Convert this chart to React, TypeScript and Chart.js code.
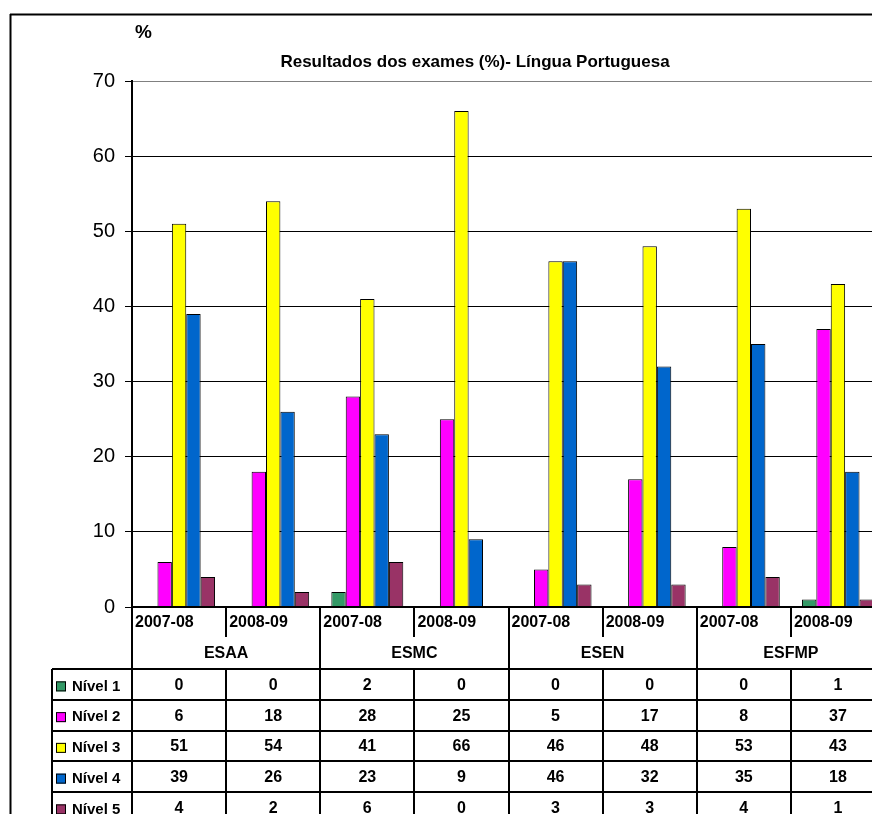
import React, { useEffect, useRef } from 'react';
import { Chart, registerables } from 'chart.js';

Chart.register(...registerables);

// ---- Data ----
const categories = ['2007-08', '2008-09', '2007-08', '2008-09', '2007-08', '2008-09', '2007-08', '2008-09'];
const schools = ['ESAA', 'ESMC', 'ESEN', 'ESFMP'];
const seriesNames = ['Nível 1', 'Nível 2', 'Nível 3', 'Nível 4', 'Nível 5'];
const nivel1 = [0, 0, 2, 0, 0, 0, 0, 1];
const nivel2 = [6, 18, 28, 25, 5, 17, 8, 37];
const nivel3 = [51, 54, 41, 66, 46, 48, 53, 43];
const nivel4 = [39, 26, 23, 9, 46, 32, 35, 18];
const nivel5 = [4, 2, 6, 0, 3, 3, 4, 1];
const yTicks = [0, 10, 20, 30, 40, 50, 60, 70];
const titleText = 'Resultados dos exames (%)- Língua Portuguesa';
const yUnit = '%';

const seriesValues = [nivel1, nivel2, nivel3, nivel4, nivel5];
const seriesColors = ['#339966', '#FF00FF', '#FFFF00', '#0066CC', '#993366'];

const FONT = '"Liberation Sans", Arial, Helvetica, sans-serif';

const W = 950;
const H = 860;
const PLOT_LEFT = 132;
const PLOT_TOP = 81;
const PLOT_RIGHT = 885;
const PLOT_BOTTOM = 607;
const ROW_H = 30.75;

export default function App() {
  const ref = useRef<HTMLCanvasElement>(null);

  useEffect(() => {
    const canvas = ref.current;
    if (!canvas) return;

    const tablePlugin = {
      id: 'excelTable',
      beforeDraw(chart: any) {
        const ctx = chart.ctx;
        ctx.save();
        ctx.fillStyle = '#fff';
        ctx.fillRect(0, 0, chart.width, chart.height);
        ctx.restore();
      },
      afterDraw(chart: any) {
        const ctx: CanvasRenderingContext2D = chart.ctx;
        const area = chart.chartArea;
        const n = categories.length;
        const cw = (area.right - area.left) / n;
        const edge = (i: number) => area.left + i * cw;
        const top = area.bottom;
        const catRowBottom = top + 30;
        const tableTop = top + 62;
        const nRows = seriesNames.length;
        const tableBottom = tableTop + nRows * ROW_H;

        ctx.save();
        ctx.strokeStyle = '#000';
        ctx.lineWidth = 2;
        const line = (x1: number, y1: number, x2: number, y2: number) => {
          ctx.beginPath();
          ctx.moveTo(x1, y1);
          ctx.lineTo(x2, y2);
          ctx.stroke();
        };

        // outer chart border
        line(10.5, 14, 10.5, H);
        line(10, 14.5, W - 10, 14.5);
        line(W - 10.5, 14, W - 10.5, H);

        // x-axis / table top
        line(area.left, top, area.right, top);
        // axis line continuing down
        line(area.left, top, area.left, tableBottom + 2);
        // legend column left
        line(52, tableTop, 52, tableBottom + 2);
        // horizontal rows
        for (let r = 0; r <= nRows; r++) {
          const y = Math.round(tableTop + r * ROW_H);
          line(52, y, area.right, y);
        }
        // verticals
        for (let i = 1; i <= n; i++) {
          const x = Math.round(edge(i));
          if (i % 2 === 0) {
            line(x, top, x, tableBottom + 2);
          } else {
            line(x, top, x, catRowBottom);
            line(x, tableTop, x, tableBottom + 2);
          }
        }

        ctx.fillStyle = '#000';
        ctx.textBaseline = 'middle';

        // category labels
        ctx.font = `bold 16px ${FONT}`;
        ctx.textAlign = 'left';
        categories.forEach((c, i) => {
          ctx.fillText(c, edge(i) + 3, top + 15.5);
        });
        // school labels
        ctx.textAlign = 'center';
        schools.forEach((s, k) => {
          ctx.fillText(s, edge(2 * k + 1), top + 46.5);
        });
        // values
        seriesValues.forEach((vals, r) => {
          const yc = tableTop + (r + 0.5) * ROW_H + 1;
          vals.forEach((v, i) => {
            ctx.fillText(String(v), edge(i) + cw / 2, yc);
          });
        });
        // legend column
        ctx.font = `bold 15px ${FONT}`;
        ctx.textAlign = 'left';
        seriesNames.forEach((name, r) => {
          const yc = tableTop + (r + 0.5) * ROW_H + 2;
          ctx.fillStyle = seriesColors[r];
          ctx.fillRect(56, yc - 5, 10, 10);
          ctx.lineWidth = 1;
          ctx.strokeStyle = '#000';
          ctx.strokeRect(56.5, yc - 4.5, 9, 9);
          ctx.fillStyle = '#000';
          ctx.fillText(name, 72, yc);
        });

        // title
        ctx.font = `bold 17px ${FONT}`;
        ctx.textAlign = 'center';
        ctx.fillText(titleText, (10 + W - 10) / 2, 62);
        // unit label
        ctx.font = `bold 19px ${FONT}`;
        ctx.fillText(yUnit, 143.5, 33);

        ctx.restore();
      },
    };

    const chart = new Chart(canvas, {
      type: 'bar',
      data: {
        labels: categories,
        datasets: seriesNames.map((name, s) => ({
          label: name,
          data: seriesValues[s].map((v) => (v === 0 ? null : v)),
          backgroundColor: seriesColors[s],
          borderColor: '#000',
          borderWidth: 1,
          borderSkipped: 'bottom',
          categoryPercentage: 72 / 94.2,
          barPercentage: 1.0,
        })),
      },
      options: {
        responsive: false,
        animation: false,
        devicePixelRatio: 1,
        layout: {
          padding: { left: 0, top: PLOT_TOP, right: W - PLOT_RIGHT, bottom: H - PLOT_BOTTOM },
        },
        plugins: {
          legend: { display: false },
          tooltip: { enabled: false },
          title: { display: false },
        },
        scales: {
          x: {
            type: 'category',
            display: false,
          },
          y: {
            min: 0,
            max: 70,
            afterBuildTicks: (scale: any) => {
              scale.ticks = yTicks.map((v) => ({ value: v }));
            },
            afterFit: (scale: any) => {
              scale.width = PLOT_LEFT;
            },
            ticks: {
              stepSize: 10,
              color: '#000',
              padding: 10,
              font: { family: FONT, size: 20 },
            },
            grid: {
              color: (c: any) => (c.tick && c.tick.value === 70 ? '#808080' : '#000'),
              tickColor: '#000',
              tickLength: 7,
              lineWidth: 1,
            },
            border: { display: true, color: '#000', width: 2 },
          },
        },
      },
      plugins: [tablePlugin],
    } as any);

    return () => chart.destroy();
  }, []);

  return (
    <div
      style={{
        position: 'fixed',
        left: 0,
        top: 0,
        width: 872,
        height: 814,
        overflow: 'hidden',
        background: '#fff',
      }}
    >
      <canvas ref={ref} width={W} height={H} style={{ display: 'block', width: W, height: H }} />
    </div>
  );
}
